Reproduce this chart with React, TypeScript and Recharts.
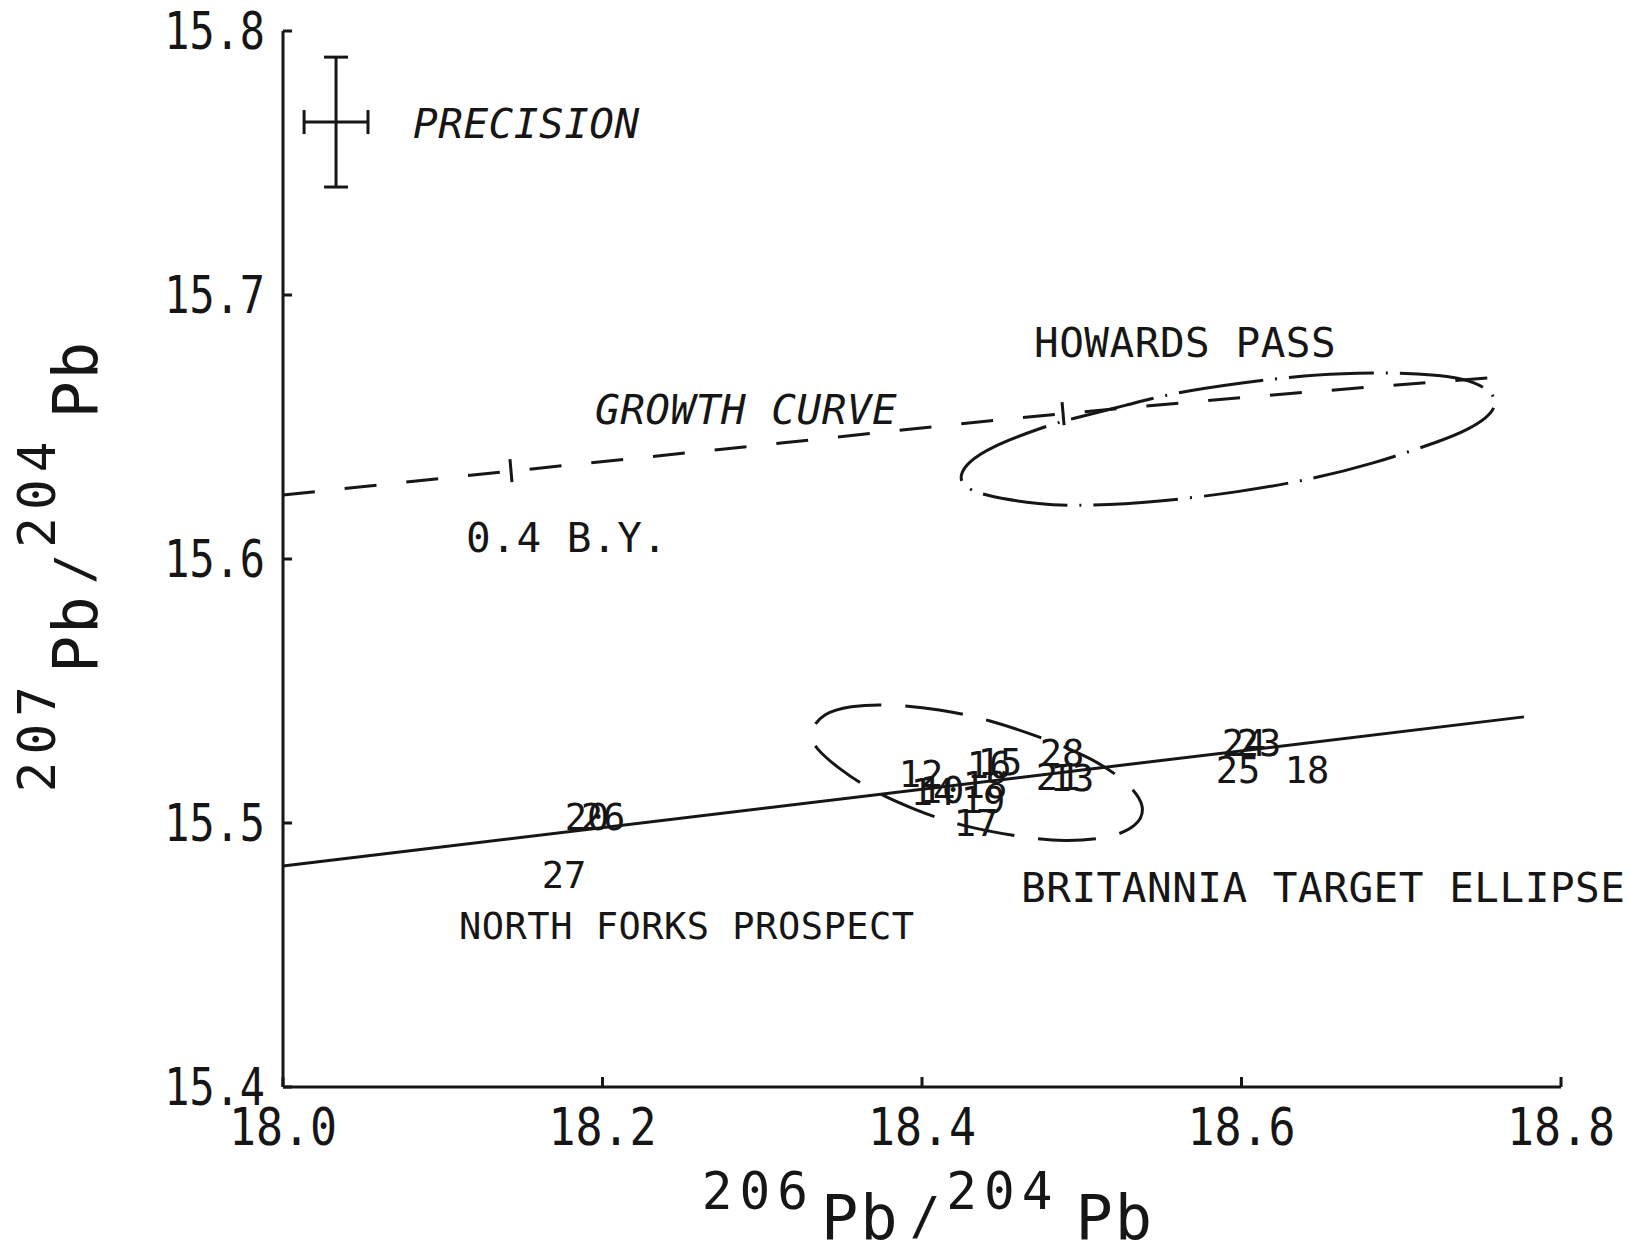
import { ScatterChart, Scatter, XAxis, YAxis, ErrorBar } from 'recharts'

const INK = '#161616'
const MONO = '"DejaVu Sans Mono", "Liberation Mono", monospace'

const X_TICKS = [18.0, 18.2, 18.4, 18.6, 18.8]
const Y_TICKS = [15.4, 15.5, 15.6, 15.7, 15.8]

// solid line through the sample cluster
const sampleTrend = [
  { x: 18.0, y: 15.4837 },
  { x: 18.7768, y: 15.5402 },
]

// dashed growth curve
const growthCurve = [
  { x: 18.0, y: 15.6242 },
  { x: 18.1427, y: 15.6333 },
  { x: 18.3117, y: 15.6439 },
  { x: 18.4488, y: 15.6527 },
  { x: 18.6053, y: 15.6614 },
  { x: 18.7618, y: 15.6689 },
]

// age tick marks on the growth curve
const growthTicks = [
  { x: 18.1427, y: 15.6333 },
  { x: 18.4883, y: 15.6549 },
]

// outline of the Howards Pass field (dash-dot)
const howardsPass = [
  { x: 18.4238, y: 15.6318 },
  { x: 18.4282, y: 15.6364 },
  { x: 18.4426, y: 15.6424 },
  { x: 18.4739, y: 15.6496 },
  { x: 18.4926, y: 15.653 },
  { x: 18.5283, y: 15.6583 },
  { x: 18.5571, y: 15.6629 },
  { x: 18.5991, y: 15.6667 },
  { x: 18.641, y: 15.6697 },
  { x: 18.6723, y: 15.6705 },
  { x: 18.7036, y: 15.6705 },
  { x: 18.7305, y: 15.6693 },
  { x: 18.7462, y: 15.667 },
  { x: 18.7574, y: 15.6629 },
  { x: 18.7599, y: 15.6583 },
  { x: 18.7537, y: 15.6534 },
  { x: 18.7412, y: 15.6489 },
  { x: 18.7286, y: 15.6455 },
  { x: 18.6804, y: 15.6356 },
  { x: 18.641, y: 15.6299 },
  { x: 18.5991, y: 15.6254 },
  { x: 18.5471, y: 15.6216 },
  { x: 18.5052, y: 15.6201 },
  { x: 18.4739, y: 15.6205 },
  { x: 18.4363, y: 15.6242 },
  { x: 18.425, y: 15.628 },
]

// outline of the Britannia target ellipse (dashed)
const britanniaEllipse = [
  { x: 18.3286, y: 15.5341 },
  { x: 18.338, y: 15.5417 },
  { x: 18.3549, y: 15.5443 },
  { x: 18.3768, y: 15.5451 },
  { x: 18.4113, y: 15.5432 },
  { x: 18.4426, y: 15.539 },
  { x: 18.4739, y: 15.5326 },
  { x: 18.5052, y: 15.525 },
  { x: 18.5283, y: 15.5159 },
  { x: 18.5408, y: 15.5061 },
  { x: 18.5346, y: 15.4985 },
  { x: 18.5177, y: 15.4943 },
  { x: 18.4895, y: 15.4928 },
  { x: 18.4613, y: 15.4947 },
  { x: 18.4238, y: 15.4989 },
  { x: 18.3956, y: 15.5049 },
  { x: 18.3675, y: 15.5125 },
  { x: 18.3474, y: 15.5208 },
  { x: 18.333, y: 15.5284 },
]

// sample numbers plotted at their positions
const samples = [
  { x: 18.1903, y: 15.5023, label: '20' },
  { x: 18.2003, y: 15.5023, label: '26' },
  { x: 18.1759, y: 15.4803, label: '27' },
  { x: 18.3994, y: 15.5186, label: '12' },
  { x: 18.4069, y: 15.5117, label: '14' },
  { x: 18.4125, y: 15.5125, label: '10' },
  { x: 18.4419, y: 15.522, label: '16' },
  { x: 18.4488, y: 15.5231, label: '15' },
  { x: 18.4394, y: 15.5144, label: '18' },
  { x: 18.4382, y: 15.5087, label: '19' },
  { x: 18.4338, y: 15.5, label: '17' },
  { x: 18.4876, y: 15.5265, label: '28' },
  { x: 18.4851, y: 15.5174, label: '21' },
  { x: 18.4939, y: 15.517, label: '13' },
  { x: 18.6016, y: 15.5303, label: '24' },
  { x: 18.611, y: 15.5303, label: '23' },
  { x: 18.5978, y: 15.5201, label: '25' },
  { x: 18.641, y: 15.5201, label: '18' },
]

const precision = [{ x: 18.0332, y: 15.7655, ex: 0.02, ey: 0.0246 }]

const italicNotes = [
  { x: 18.0814, y: 15.7652, text: 'PRECISION' },
  { x: 18.1953, y: 15.6568, text: 'GROWTH CURVE' },
]

const plainNotes = [
  { x: 18.1146, y: 15.6083, text: '0.4 B.Y.' },
  { x: 18.4701, y: 15.6822, text: 'HOWARDS PASS' },
  { x: 18.462, y: 15.4758, text: 'BRITANNIA TARGET ELLIPSE' },
]

const smallNotes = [{ x: 18.1102, y: 15.4614, text: 'NORTH FORKS PROSPECT' }]

const NoShape = () => <g />

const XTick = ({ x, y, payload }: any) => (
  <g>
    <line x1={x} y1={y} x2={x} y2={y - 10} stroke={INK} strokeWidth={3} />
    <text
      transform={`translate(${x},${y + 58}) scale(0.88,1)`}
      textAnchor="middle"
      fontFamily={MONO}
      fontSize={51}
      fill={INK}
    >
      {Number(payload.value).toFixed(1)}
    </text>
  </g>
)

const YTick = ({ x, y, payload }: any) => (
  <g>
    <line x1={x} y1={y} x2={x + 9} y2={y} stroke={INK} strokeWidth={3} />
    <text
      transform={`translate(${x - 18},${y + 18}) scale(0.82,1)`}
      textAnchor="end"
      fontFamily={MONO}
      fontSize={51}
      fill={INK}
    >
      {Number(payload.value).toFixed(1)}
    </text>
  </g>
)

const RatioTitle = ({ top, bottom, drop }: { top: string; bottom: string; drop: number }) => (
  <>
    <tspan fontSize={51} letterSpacing={7}>{top}</tspan>
    <tspan fontSize={62} dx={6} dy={drop} letterSpacing={2}>Pb</tspan>
    <tspan fontSize={51} dx={10} dy={-5}>/</tspan>
    <tspan fontSize={51} dx={6} dy={5 - drop} letterSpacing={7}>{bottom}</tspan>
    <tspan fontSize={62} dx={16} dy={drop} letterSpacing={2}>Pb</tspan>
  </>
)

const XTitle = ({ viewBox }: any) => {
  const cx = viewBox.x + viewBox.width / 2 + 6
  return (
    <text x={cx} y={viewBox.y + 122} textAnchor="middle" fontFamily={MONO} fill={INK}>
      <RatioTitle top="206" bottom="204" drop={30} />
    </text>
  )
}

const YTitle = ({ viewBox }: any) => {
  const bx = viewBox.x + viewBox.width - 228
  const cy = viewBox.y + viewBox.height / 2 + 7
  return (
    <text
      transform={`translate(${bx},${cy}) rotate(-90)`}
      textAnchor="middle"
      fontFamily={MONO}
      fill={INK}
    >
      <RatioTitle top="207" bottom="204" drop={42} />
    </text>
  )
}

const SampleLabel = (p: any) => (
  <text x={p.cx} y={p.cy + 13} textAnchor="middle" fontFamily={MONO} fontSize={37} fill={INK}>
    {p.payload.label}
  </text>
)

const NoteLabel = (italic: boolean, size: number) => (p: any) => (
  <text
    x={p.cx}
    y={p.cy + size * 0.37}
    fontFamily={MONO}
    fontSize={size}
    fontStyle={italic ? 'italic' : 'normal'}
    letterSpacing={0.5}
    fill={INK}
  >
    {p.payload.text}
  </text>
)

const GrowthTick = (p: any) => (
  <line x1={p.cx - 1} y1={p.cy - 12} x2={p.cx + 1} y2={p.cy + 11} stroke={INK} strokeWidth={3} />
)

export default function App() {
  return (
    <div style={{ position: 'absolute', left: 0, top: 0, background: '#fff' }}>
      <ScatterChart width={1630} height={1253} margin={{ top: 31, right: 69, bottom: 66, left: 83 }}>
        <XAxis
          type="number"
          dataKey="x"
          domain={[18.0, 18.8]}
          ticks={X_TICKS}
          height={100}
          tickSize={0}
          tickMargin={0}
          tickLine={false}
          tick={<XTick />}
          axisLine={{ stroke: INK, strokeWidth: 3 }}
          label={<XTitle />}
        />
        <YAxis
          type="number"
          dataKey="y"
          domain={[15.4, 15.8]}
          ticks={Y_TICKS}
          width={200}
          tickSize={0}
          tickMargin={0}
          tickLine={false}
          tick={<YTick />}
          axisLine={{ stroke: INK, strokeWidth: 3 }}
          label={<YTitle />}
        />

        <Scatter
          data={sampleTrend}
          line={{ stroke: INK, strokeWidth: 3 }}
          shape={NoShape}
          isAnimationActive={false}
        />
        <Scatter
          data={growthCurve}
          line={{ stroke: INK, strokeWidth: 3, strokeDasharray: '32 30' }}
          lineJointType="monotoneX"
          shape={NoShape}
          isAnimationActive={false}
        />
        <Scatter data={growthTicks} shape={GrowthTick} isAnimationActive={false} />
        <Scatter
          data={howardsPass}
          line={{ stroke: INK, strokeWidth: 3, strokeDasharray: '85 12 2 12' }}
          lineJointType="basisClosed"
          shape={NoShape}
          isAnimationActive={false}
        />
        <Scatter
          data={britanniaEllipse}
          line={{ stroke: INK, strokeWidth: 3, strokeDasharray: '58 24' }}
          lineJointType="basisClosed"
          shape={NoShape}
          isAnimationActive={false}
        />
        <Scatter data={precision} shape={NoShape} isAnimationActive={false}>
          <ErrorBar dataKey="ex" direction="x" width={12} stroke={INK} strokeWidth={3} />
          <ErrorBar dataKey="ey" direction="y" width={12} stroke={INK} strokeWidth={3} />
        </Scatter>
        <Scatter data={samples} shape={SampleLabel} isAnimationActive={false} />
        <Scatter data={italicNotes} shape={NoteLabel(true, 41)} isAnimationActive={false} />
        <Scatter data={plainNotes} shape={NoteLabel(false, 41)} isAnimationActive={false} />
        <Scatter data={smallNotes} shape={NoteLabel(false, 37)} isAnimationActive={false} />
      </ScatterChart>
    </div>
  )
}
